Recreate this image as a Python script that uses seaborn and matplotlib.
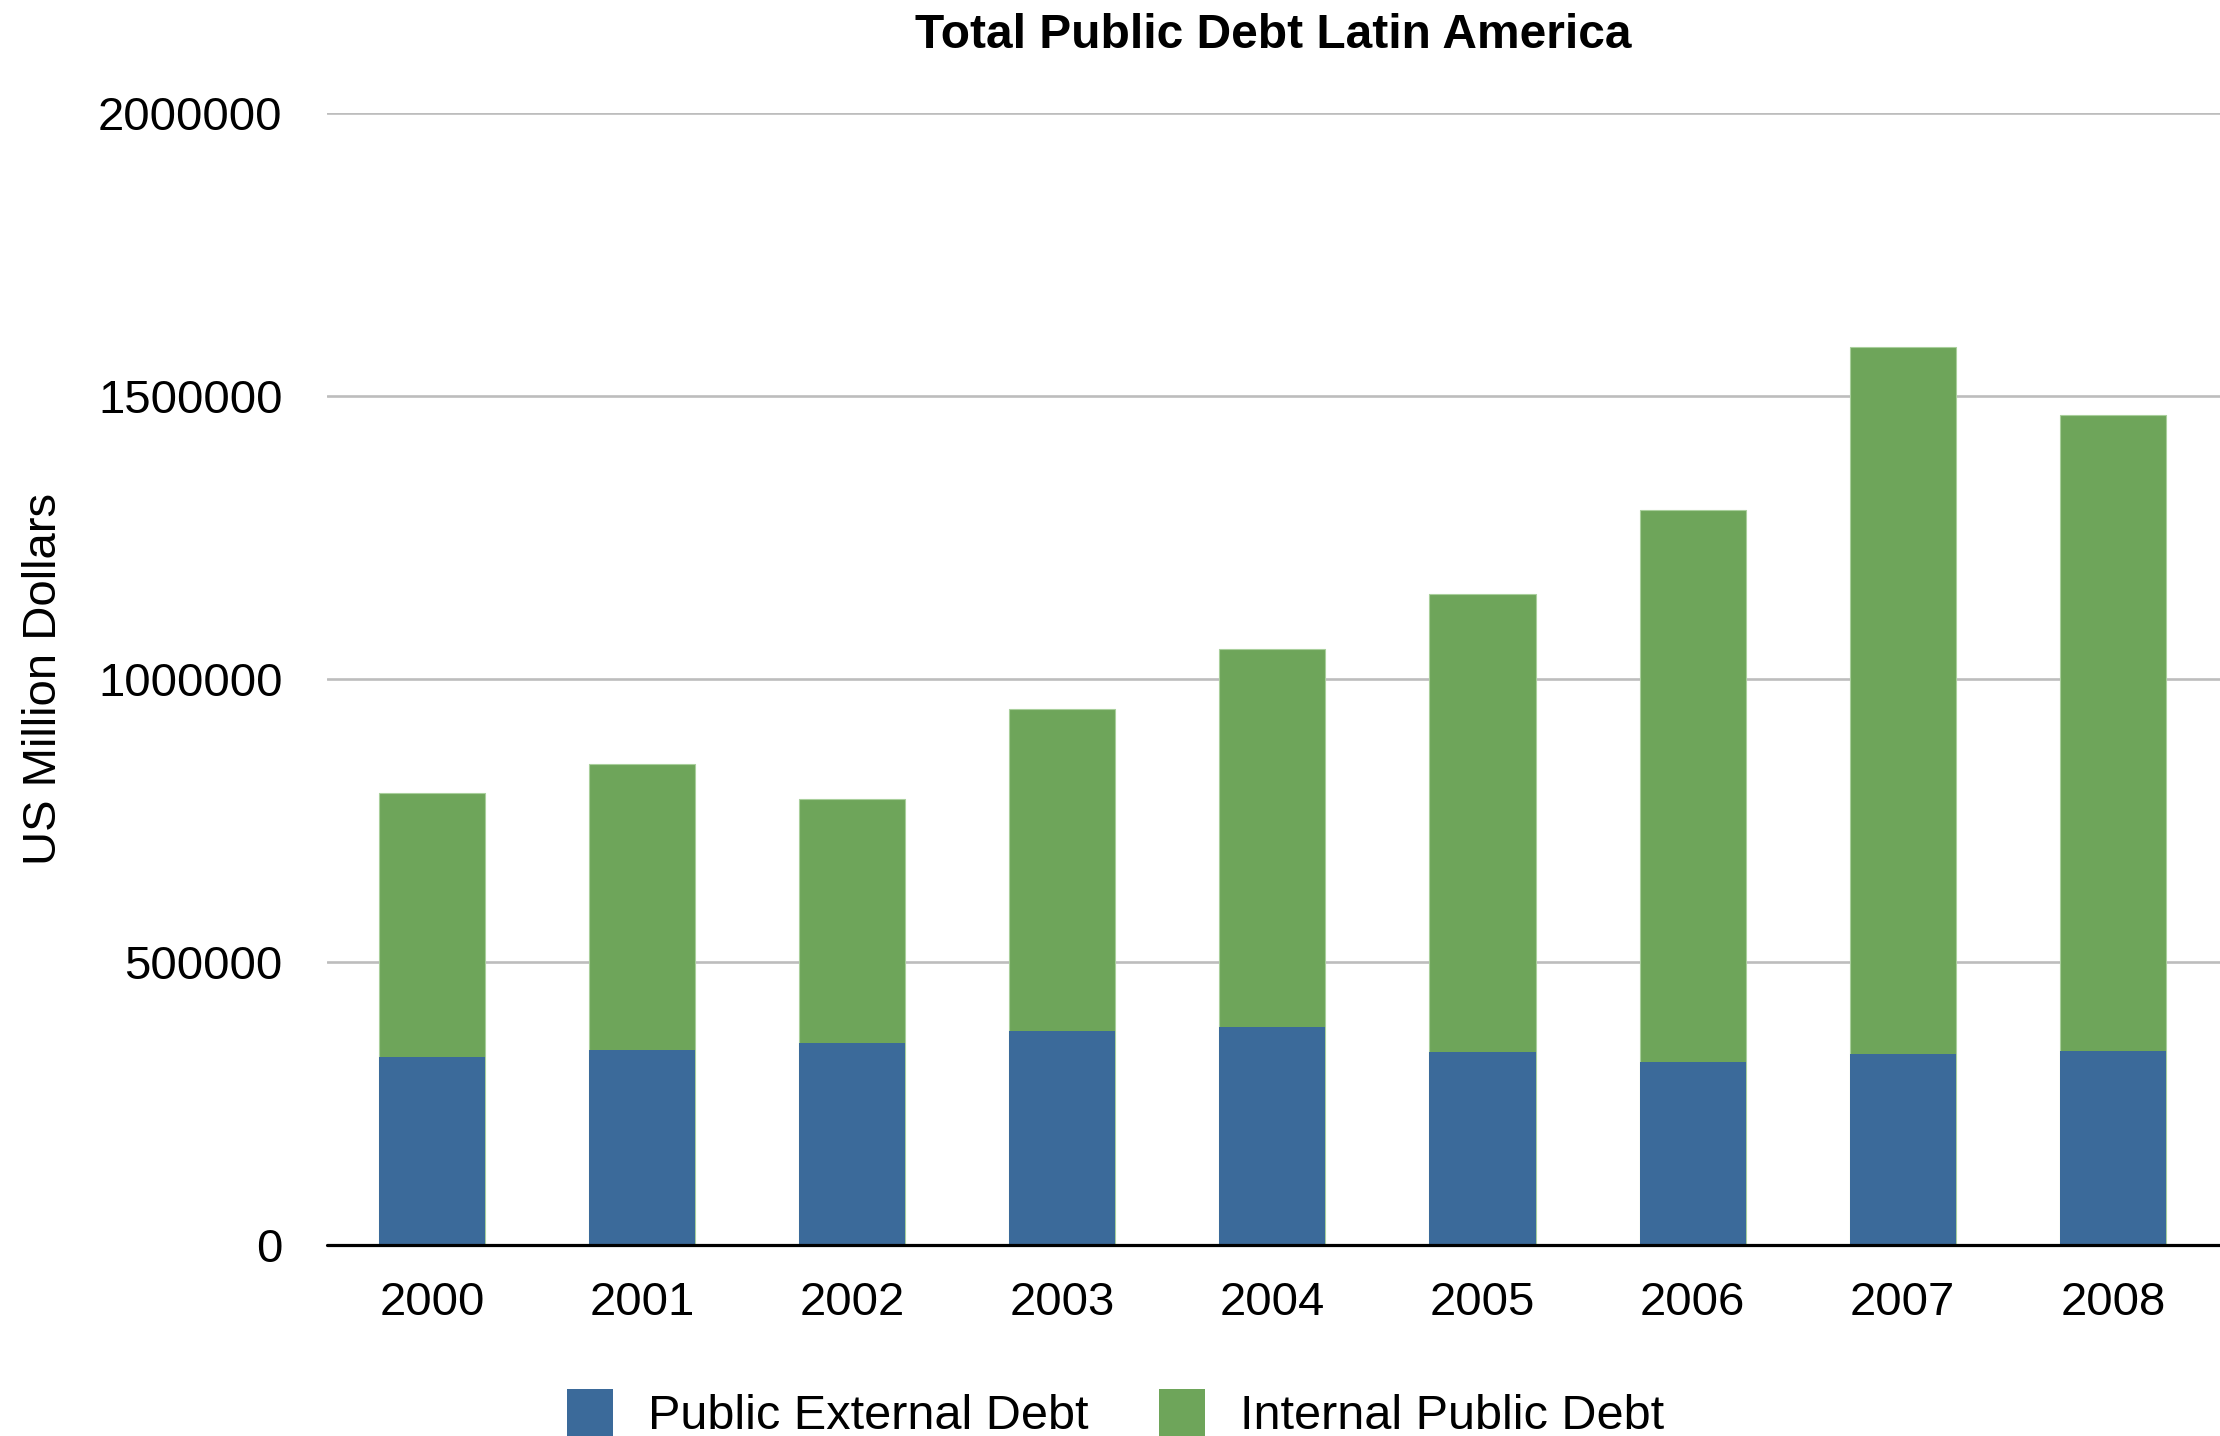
import matplotlib
matplotlib.use("Agg")
import matplotlib.pyplot as plt
import seaborn as sns
import pandas as pd
from matplotlib.patches import Patch

years = ["2000", "2001", "2002", "2003", "2004", "2005", "2006", "2007", "2008"]
external_debt = [332000, 344000, 357000, 378000, 385000, 341000, 323000, 337000, 343000]
internal_debt = [467000, 506000, 430000, 568000, 667000, 809000, 976000, 1249000, 1123000]
y_ticks = [0, 500000, 1000000, 1500000, 2000000]

title = "Total Public Debt Latin America"
y_label = "US Million Dollars"
series_names = ["Public External Debt", "Internal Public Debt"]

blue = "#3B6A9A"
green = "#6EA55A"

sns.set_theme(style="white")
plt.rcParams["font.family"] = ["Liberation Sans", "DejaVu Sans"]
plt.rcParams["text.color"] = "black"
plt.rcParams["axes.labelcolor"] = "black"

df = pd.DataFrame({
    "year": years,
    "external": external_debt,
    "internal": internal_debt,
})
df["total"] = df["external"] + df["internal"]

fig = plt.figure(figsize=(22.2, 14.36), dpi=100)
ax = fig.add_axes([327 / 2220, 1 - 1244.6 / 1436, 1 - 327 / 2220, (1244.6 - 113) / 1436])

sns.barplot(data=df, x="year", y="total", color=green, saturation=1, width=0.505,
            ax=ax, zorder=2, edgecolor="#a9cf9c", linewidth=0.8)
sns.barplot(data=df, x="year", y="external", color=blue, saturation=1, width=0.505,
            ax=ax, zorder=3, linewidth=0)

ax.set_ylim(0, 2000000)
ax.set_xlim(-0.5, 8.51)
ax.set_yticks(y_ticks)
ax.set_yticklabels([str(v) for v in y_ticks])
ax.yaxis.grid(True, color="#bdbdbd", linewidth=1.9, zorder=0)
ax.set_axisbelow(True)
ax.axhline(0, color="black", linewidth=2.3, zorder=5, clip_on=False)

for s in ax.spines.values():
    s.set_visible(False)

ax.tick_params(axis="y", length=0, pad=32, labelsize=34, labelcolor="black")
ax.tick_params(axis="x", length=0, pad=26, labelsize=34, labelcolor="black")
ax.set_xlabel("")
ax.set_ylabel(y_label, fontsize=34, color="black")
ax.yaxis.set_label_coords((44 - 327) / 1893, 0.5)
ax.yaxis.label.set_va("center")

fig.text((327 + 2220) / 2 / 2220, 1 - 35 / 1436, title, ha="center", va="center",
         fontsize=34.5, fontweight="bold", color="black")

handles = [Patch(facecolor=blue, edgecolor="none"), Patch(facecolor=green, edgecolor="none")]
fig.legend(handles, series_names, loc="center", bbox_to_anchor=(0.5025, 1 - 1414 / 1436),
           ncol=2, frameon=False, fontsize=35, handlelength=0.95, handleheight=1.15,
           handletextpad=0.72, columnspacing=1.45, borderpad=0, labelcolor="black")

fig.savefig("out.png", dpi=100)
